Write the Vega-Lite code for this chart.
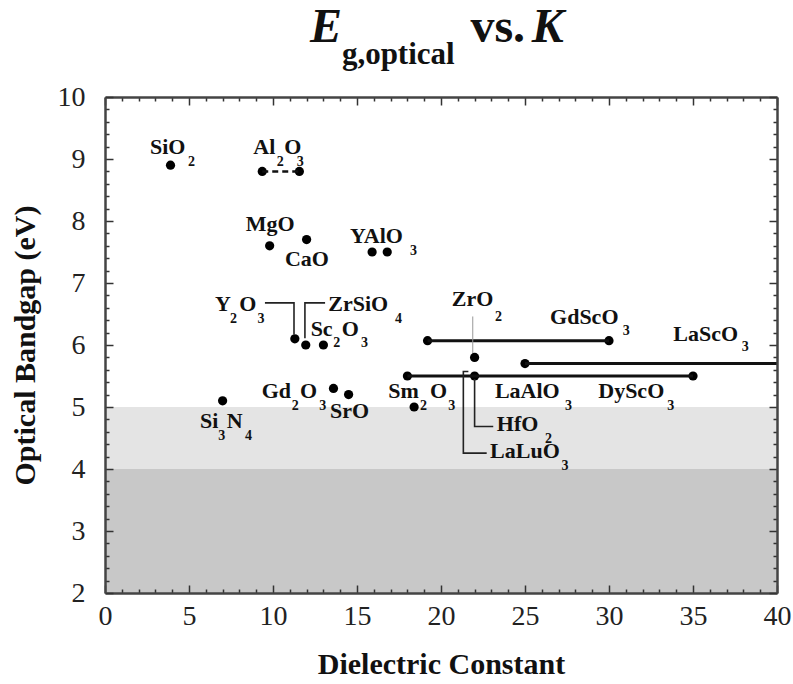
{
  "$schema": "https://vega.github.io/schema/vega-lite/v6.json",
  "autosize": {"type": "none"},
  "width": 672,
  "height": 496,
  "padding": {"left": 105, "top": 97, "right": 16, "bottom": 91},
  "background": "white",
  "config": {"font": "Liberation Serif", "view": {"stroke": null}},
  "datasets": {
    "bandRows": [
      {"x1": 0, "x2": 40, "y1": 4, "y2": 5, "band": "light"},
      {"x1": 0, "x2": 40, "y1": 2, "y2": 4, "band": "dark"}
    ],
    "dotRows": [
      {"k": 3.9, "e": 8.9}, {"k": 9.36, "e": 8.8}, {"k": 11.57, "e": 8.8},
      {"k": 9.8, "e": 7.6}, {"k": 12.0, "e": 7.7}, {"k": 15.9, "e": 7.5}, {"k": 16.8, "e": 7.5},
      {"k": 11.3, "e": 6.1}, {"k": 11.95, "e": 6.0}, {"k": 13.0, "e": 6.0},
      {"k": 7.0, "e": 5.1}, {"k": 13.6, "e": 5.3}, {"k": 14.5, "e": 5.2},
      {"k": 19.2, "e": 6.07}, {"k": 30, "e": 6.07}, {"k": 22, "e": 5.8},
      {"k": 25, "e": 5.7}, {"k": 18, "e": 5.5}, {"k": 35, "e": 5.5}, {"k": 22, "e": 5.5},
      {"k": 18.4, "e": 5.0}
    ],
    "spanRows": [
      {"x1": 19.2, "x2": 30, "y": 6.07},
      {"x1": 25, "x2": 40, "y": 5.7},
      {"x1": 18, "x2": 35, "y": 5.5}
    ],
    "dashRows": [{"x1": 9.36, "x2": 11.57, "y": 8.8}],
    "leadRows": [{"x": 21.89, "y1": 6.46, "y2": 5.87}],
    "connRows": [
      {"id": "Y2O3", "s": 1, "x": 9.52, "y": 6.68}, {"id": "Y2O3", "s": 2, "x": 11.25, "y": 6.68}, {"id": "Y2O3", "s": 3, "x": 11.25, "y": 6.17},
      {"id": "ZrSiO4", "s": 1, "x": 13.1, "y": 6.68}, {"id": "ZrSiO4", "s": 2, "x": 11.9, "y": 6.68}, {"id": "ZrSiO4", "s": 3, "x": 11.9, "y": 6.11},
      {"id": "HfO2", "s": 1, "x": 22.0, "y": 5.45}, {"id": "HfO2", "s": 2, "x": 22.0, "y": 4.685}, {"id": "HfO2", "s": 3, "x": 23.11, "y": 4.685},
      {"id": "LaLuO3", "s": 1, "x": 21.63, "y": 5.573}, {"id": "LaLuO3", "s": 2, "x": 21.33, "y": 5.573}, {"id": "LaLuO3", "s": 3, "x": 21.33, "y": 4.256}, {"id": "LaLuO3", "s": 4, "x": 22.72, "y": 4.256}
    ],
    "nameRows": [
      {"t": "SiO", "x": 2.68, "y": 9.083},
      {"t": "Al", "x": 8.83, "y": 9.083},
      {"t": "O", "x": 10.67, "y": 9.083},
      {"t": "MgO", "x": 8.38, "y": 7.833},
      {"t": "CaO", "x": 10.71, "y": 7.268},
      {"t": "YAlO", "x": 14.58, "y": 7.646},
      {"t": "Y", "x": 6.55, "y": 6.542},
      {"t": "O", "x": 7.99, "y": 6.542},
      {"t": "ZrSiO", "x": 13.29, "y": 6.542},
      {"t": "Sc", "x": 12.24, "y": 6.138},
      {"t": "O", "x": 14.09, "y": 6.138},
      {"t": "Gd", "x": 9.33, "y": 5.144},
      {"t": "O", "x": 11.61, "y": 5.144},
      {"t": "SrO", "x": 13.39, "y": 4.821},
      {"t": "Si", "x": 5.65, "y": 4.659},
      {"t": "N", "x": 7.24, "y": 4.659},
      {"t": "ZrO", "x": 20.64, "y": 6.623},
      {"t": "GdScO", "x": 26.49, "y": 6.343},
      {"t": "LaScO", "x": 33.83, "y": 6.057},
      {"t": "Sm", "x": 16.86, "y": 5.144},
      {"t": "O", "x": 19.35, "y": 5.144},
      {"t": "LaAlO", "x": 23.21, "y": 5.144},
      {"t": "DyScO", "x": 29.36, "y": 5.144},
      {"t": "HfO", "x": 23.32, "y": 4.605},
      {"t": "LaLuO", "x": 22.92, "y": 4.175}
    ],
    "subRows": [
      {"t": "2", "x": 4.94, "y": 8.894},
      {"t": "2", "x": 10.22, "y": 8.894},
      {"t": "3", "x": 11.41, "y": 8.894},
      {"t": "3", "x": 18.15, "y": 7.457},
      {"t": "2", "x": 7.44, "y": 6.355},
      {"t": "3", "x": 9.07, "y": 6.355},
      {"t": "4", "x": 17.26, "y": 6.355},
      {"t": "2", "x": 13.59, "y": 5.967},
      {"t": "3", "x": 15.24, "y": 5.967},
      {"t": "2", "x": 11.11, "y": 4.955},
      {"t": "3", "x": 12.76, "y": 4.955},
      {"t": "3", "x": 6.74, "y": 4.47},
      {"t": "4", "x": 8.33, "y": 4.47},
      {"t": "2", "x": 23.21, "y": 6.38},
      {"t": "3", "x": 30.82, "y": 6.166},
      {"t": "3", "x": 37.9, "y": 5.896},
      {"t": "2", "x": 18.75, "y": 4.955},
      {"t": "3", "x": 20.43, "y": 4.955},
      {"t": "3", "x": 27.38, "y": 4.955},
      {"t": "3", "x": 33.47, "y": 4.955},
      {"t": "2", "x": 26.19, "y": 4.417},
      {"t": "3", "x": 27.18, "y": 3.986}
    ],
    "headItalic": [{"t": "E", "x": 12.2, "y": 10.88}, {"t": "K", "x": 25.4, "y": 10.88}],
    "headVs": [{"t": "vs.", "x": 21.75, "y": 10.88}],
    "headSub": [{"t": "g,optical", "x": 14.1, "y": 10.525}]
  },
  "resolve": {"axis": {"x": "independent", "y": "independent"}},
  "layer": [
    {
      "data": {"name": "bandRows"},
      "mark": {"type": "rect"},
      "encoding": {
        "x": {
          "field": "x1", "type": "quantitative",
          "scale": {"domain": [0, 40], "nice": false, "zero": false},
          "axis": {
            "orient": "bottom", "zindex": 2, "ticks": true, "grid": false,
            "values": [0,1,2,3,4,5,6,7,8,9,10,11,12,13,14,15,16,17,18,19,20,21,22,23,24,25,26,27,28,29,30,31,32,33,34,35,36,37,38,39,40],
            "labelExpr": "datum.value % 5 === 0 ? datum.label : ''",
            "tickSize": -8,
            "tickDash": {"condition": {"test": "datum.value % 5 === 0", "value": [8, 0]}, "value": [4, 20]},
            "tickColor": "#333", "tickWidth": 1.5,
            "domainColor": "#444", "domainWidth": 2.5,
            "labelFontSize": 28, "labelColor": "#222",
            "labelPadding": 17, "labelOverlap": false, "labelFlush": false,
            "title": "Dielectric Constant",
            "titleFontSize": 30, "titleFontWeight": "bold", "titleColor": "#111",
            "titleY": 80, "titleBaseline": "alphabetic"
          }
        },
        "x2": {"field": "x2"},
        "y": {
          "field": "y1", "type": "quantitative",
          "scale": {"domain": [2, 10], "nice": false, "zero": false},
          "axis": {
            "orient": "left", "zindex": 2, "ticks": true, "grid": false,
            "values": [2,2.2,2.4,2.6,2.8,3,3.2,3.4,3.6,3.8,4,4.2,4.4,4.6,4.8,5,5.2,5.4,5.6,5.8,6,6.2,6.4,6.6,6.8,7,7.2,7.4,7.6,7.8,8,8.2,8.4,8.6,8.8,9,9.2,9.4,9.6,9.8,10],
            "labelExpr": "abs(datum.value - round(datum.value)) < 0.001 ? format(datum.value, 'd') : ''",
            "tickSize": -8,
            "tickDash": {"condition": {"test": "abs(datum.value - round(datum.value)) < 0.001", "value": [8, 0]}, "value": [4, 20]},
            "tickColor": "#333", "tickWidth": 1.5,
            "domainColor": "#444", "domainWidth": 2.5,
            "labelFontSize": 28, "labelColor": "#222",
            "labelPadding": 28, "labelOverlap": false, "labelFlush": false,
            "title": "Optical Bandgap (eV)",
            "titleFontSize": 30, "titleFontWeight": "bold", "titleColor": "#111",
            "titleX": -71, "titleY": 248, "titleAngle": -90, "titleAlign": "center", "titleBaseline": "alphabetic"
          }
        },
        "y2": {"field": "y2"},
        "color": {"field": "band", "type": "nominal", "scale": {"domain": ["light", "dark"], "range": ["#e4e4e4", "#c8c8c8"]}, "legend": null}
      }
    },
    {
      "data": {"name": "dotRows"},
      "mark": {"type": "circle", "color": "#000", "opacity": 1, "size": 85},
      "encoding": {
        "x": {
          "field": "k", "type": "quantitative",
          "axis": {
            "orient": "top", "zindex": 2, "ticks": true, "grid": false,
            "values": [0,1,2,3,4,5,6,7,8,9,10,11,12,13,14,15,16,17,18,19,20,21,22,23,24,25,26,27,28,29,30,31,32,33,34,35,36,37,38,39,40],
            "labels": false, "title": null,
            "tickSize": -8,
            "tickDash": {"condition": {"test": "datum.value % 5 === 0", "value": [8, 0]}, "value": [4, 20]},
            "tickColor": "#333", "tickWidth": 1.5,
            "domainColor": "#444", "domainWidth": 2.5
          }
        },
        "y": {
          "field": "e", "type": "quantitative",
          "axis": {
            "orient": "right", "zindex": 2, "ticks": true, "grid": false,
            "values": [2,2.2,2.4,2.6,2.8,3,3.2,3.4,3.6,3.8,4,4.2,4.4,4.6,4.8,5,5.2,5.4,5.6,5.8,6,6.2,6.4,6.6,6.8,7,7.2,7.4,7.6,7.8,8,8.2,8.4,8.6,8.8,9,9.2,9.4,9.6,9.8,10],
            "labels": false, "title": null,
            "tickSize": -8,
            "tickDash": {"condition": {"test": "abs(datum.value - round(datum.value)) < 0.001", "value": [8, 0]}, "value": [4, 20]},
            "tickColor": "#333", "tickWidth": 1.5,
            "domainColor": "#444", "domainWidth": 2.5
          }
        }
      }
    },
    {
      "layer": [
        {
          "data": {"name": "spanRows"},
          "mark": {"type": "rule", "color": "#111", "strokeWidth": 3},
          "encoding": {
            "x": {"field": "x1", "type": "quantitative", "axis": null},
            "x2": {"field": "x2"},
            "y": {"field": "y", "type": "quantitative", "axis": null}
          }
        },
        {
          "data": {"name": "dashRows"},
          "mark": {"type": "rule", "color": "#111", "strokeWidth": 2.5, "strokeDash": [6, 4]},
          "encoding": {
            "x": {"field": "x1", "type": "quantitative", "axis": null},
            "x2": {"field": "x2"},
            "y": {"field": "y", "type": "quantitative", "axis": null}
          }
        },
        {
          "data": {"name": "leadRows"},
          "mark": {"type": "rule", "color": "#999", "strokeWidth": 1},
          "encoding": {
            "x": {"field": "x", "type": "quantitative", "axis": null},
            "y": {"field": "y1", "type": "quantitative", "axis": null},
            "y2": {"field": "y2"}
          }
        },
        {
          "data": {"name": "connRows"},
          "mark": {"type": "line", "color": "#222", "strokeWidth": 1.6, "interpolate": "linear"},
          "encoding": {
            "x": {"field": "x", "type": "quantitative", "axis": null},
            "y": {"field": "y", "type": "quantitative", "axis": null},
            "detail": {"field": "id"},
            "order": {"field": "s", "type": "quantitative"}
          }
        },
        {
          "data": {"name": "nameRows"},
          "mark": {"type": "text", "font": "Liberation Serif", "fontWeight": "bold", "fontSize": 22, "align": "left", "baseline": "alphabetic", "color": "#111"},
          "encoding": {
            "x": {"field": "x", "type": "quantitative", "axis": null},
            "y": {"field": "y", "type": "quantitative", "axis": null},
            "text": {"field": "t"}
          }
        },
        {
          "data": {"name": "subRows"},
          "mark": {"type": "text", "font": "Liberation Serif", "fontWeight": "bold", "fontSize": 14, "align": "left", "baseline": "alphabetic", "color": "#111"},
          "encoding": {
            "x": {"field": "x", "type": "quantitative", "axis": null},
            "y": {"field": "y", "type": "quantitative", "axis": null},
            "text": {"field": "t"}
          }
        },
        {
          "data": {"name": "headItalic"},
          "mark": {"type": "text", "font": "Liberation Serif", "fontWeight": "bold", "fontStyle": "italic", "fontSize": 48, "align": "left", "baseline": "alphabetic", "color": "#111"},
          "encoding": {
            "x": {"field": "x", "type": "quantitative", "axis": null},
            "y": {"field": "y", "type": "quantitative", "axis": null},
            "text": {"field": "t"}
          }
        },
        {
          "data": {"name": "headVs"},
          "mark": {"type": "text", "font": "Liberation Serif", "fontWeight": "bold", "fontSize": 48, "align": "left", "baseline": "alphabetic", "color": "#111"},
          "encoding": {
            "x": {"field": "x", "type": "quantitative", "axis": null},
            "y": {"field": "y", "type": "quantitative", "axis": null},
            "text": {"field": "t"}
          }
        },
        {
          "data": {"name": "headSub"},
          "mark": {"type": "text", "font": "Liberation Serif", "fontWeight": "bold", "fontSize": 31, "align": "left", "baseline": "alphabetic", "color": "#111"},
          "encoding": {
            "x": {"field": "x", "type": "quantitative", "axis": null},
            "y": {"field": "y", "type": "quantitative", "axis": null},
            "text": {"field": "t"}
          }
        }
      ]
    }
  ]
}
